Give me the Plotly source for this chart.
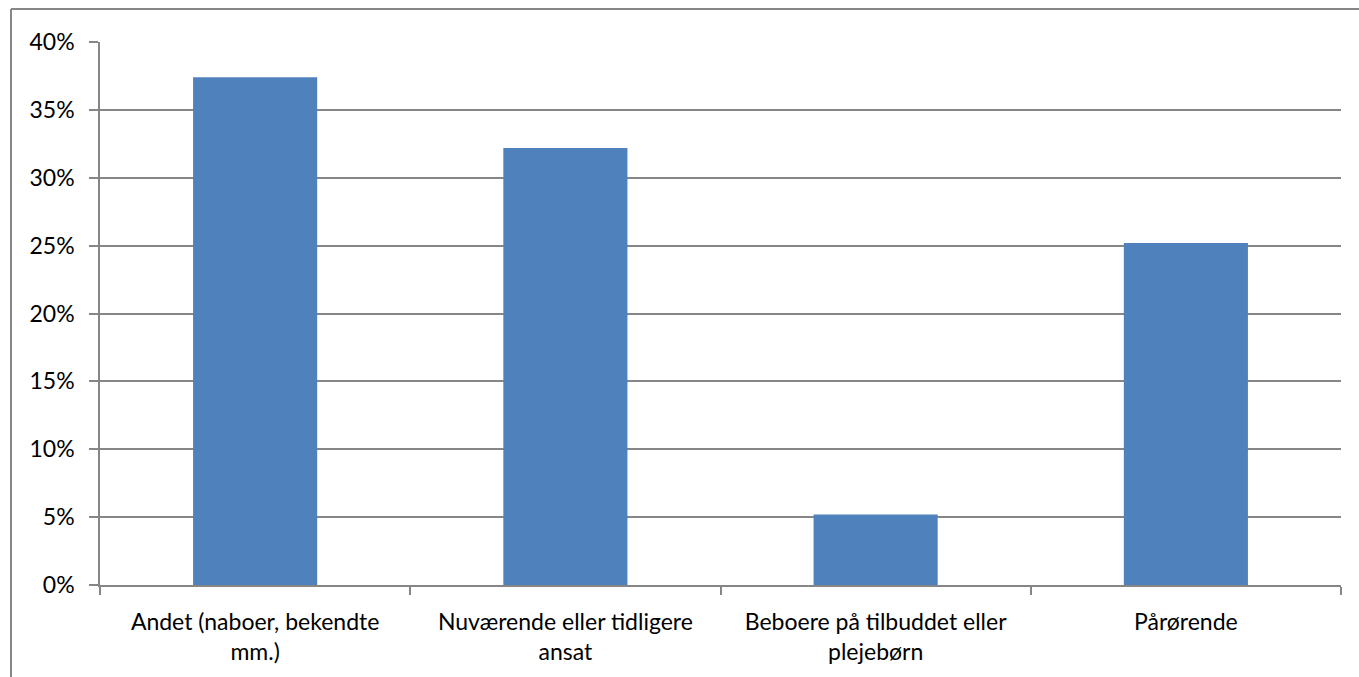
import plotly.graph_objects as go

categories = ["Andet (naboer, bekendte<br>mm.)", "Nuværende eller tidligere<br>ansat",
              "Beboere på tilbuddet eller<br>plejebørn", "Pårørende"]
values = [0.374, 0.322, 0.052, 0.252]
y_ticks = [0, 0.05, 0.10, 0.15, 0.20, 0.25, 0.30, 0.35, 0.40]

W, H = 1359, 677
L, R, T, B = 100, 18, 42, 92
pw, ph = W - L - R, H - T - B

def px(x):
    return (x - L) / pw

def py(y):
    return (H - B - y) / ph

fig = go.Figure(go.Bar(x=categories, y=values, marker=dict(color="#4F81BD", line=dict(width=0)),
                       width=0.4))

grid = "#868686"
fig.update_layout(
    width=W, height=H,
    margin=dict(l=L, r=R, t=T, b=B),
    plot_bgcolor="white", paper_bgcolor="white",
    font=dict(family="Lato, Open Sans, sans-serif", size=23, color="black"),
    showlegend=False,
    bargap=0.6,
    xaxis=dict(showline=True, linecolor=grid, linewidth=1.5, ticks="outside", tickson="boundaries",
               ticklen=8, tickcolor=grid, tickwidth=1.5, showgrid=False, tickfont=dict(size=23),
               ticklabelstandoff=16),
    yaxis=dict(range=[0, 0.4], tickvals=y_ticks, tickformat=".0%", showline=True, linecolor=grid,
               linewidth=1.5, ticks="outside", ticklen=9, tickcolor=grid, tickwidth=1.5,
               showgrid=True, gridcolor=grid, gridwidth=1.5, zeroline=False,
               tickfont=dict(size=23), ticklabelstandoff=10),
    shapes=[
        dict(type="line", xref="paper", yref="paper", x0=px(11), x1=px(W + 10), y0=py(9), y1=py(9),
             line=dict(color=grid, width=2)),
        dict(type="line", xref="paper", yref="paper", x0=px(11), x1=px(11), y0=py(9), y1=py(H + 10),
             line=dict(color=grid, width=2)),
    ],
    annotations=[
        dict(text="<b>Figur 8: Hvem indberettede episoder</b>", xref="paper", yref="paper",
             x=px(2), y=py(1), xanchor="left", yanchor="bottom", showarrow=False,
             font=dict(family="DejaVu Serif", size=22, color="#1F3864")),
    ],
)

fig.write_html("out.html", config={"displayModeBar": False},
               post_script="document.body.style.margin='0';document.body.style.overflow='hidden';")
